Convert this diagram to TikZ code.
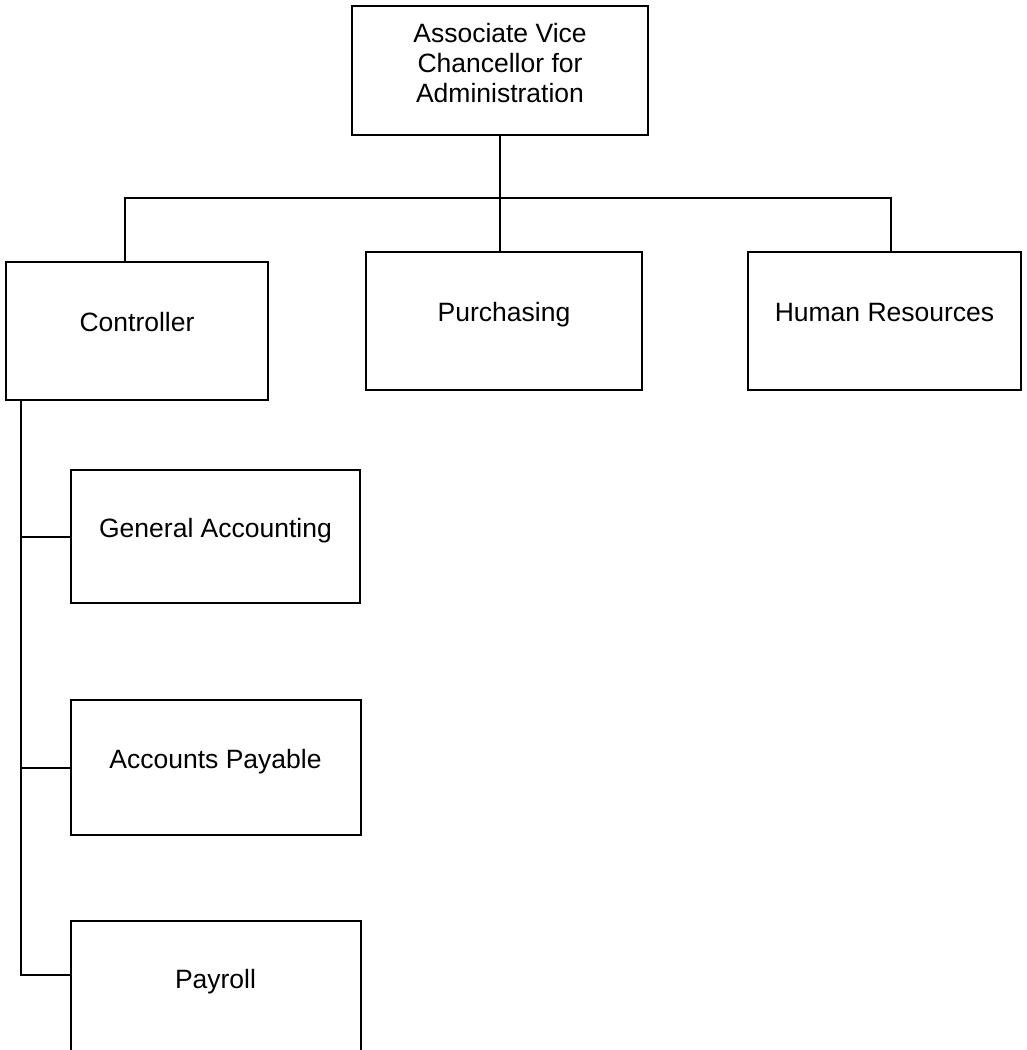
\documentclass[tikz,border=0pt]{standalone}
\usepackage{fontspec}
\setmainfont{Liberation Sans}
\usetikzlibrary{positioning,calc}

\begin{document}
\begin{tikzpicture}[x=0.5pt, y=-0.5pt,
  font=\fontsize{13.25pt}{15pt}\selectfont,
  caja/.style={draw=black, line width=1pt, inner sep=0pt, text height=9.5pt, text depth=9pt},
  jefe/.style={draw=black, line width=1pt, inner sep=0pt, align=center, text depth=8pt},
  linea/.style={draw=black, line width=1pt}]
\useasboundingbox (0,0) rectangle (1027,1050);
\node[jefe, minimum width=148pt, minimum height=64.5pt] (avc) at (500,70.5) {Associate Vice\\Chancellor for\\Administration};
\node[caja, minimum width=131pt, minimum height=69pt] (ctrl) at (137,331) {Controller};
\node[caja, minimum width=138pt, minimum height=69pt] (purch) at (504,321) {Purchasing};
\node[caja, minimum width=136.5pt, minimum height=69pt] (hr) at (884.5,321) {Human Resources};
\node[caja, minimum width=144.5pt, minimum height=66.5pt] (genacc) at (215.5,536.5) {General Accounting};
\node[caja, minimum width=145pt, minimum height=67.5pt, below=47.5pt of genacc] (accpay) {Accounts Payable};
\node[caja, minimum width=145pt, minimum height=66.5pt, below=42pt of accpay] (payroll) {Payroll};
% lineas de mando
\coordinate (busw) at (125,198);
\coordinate (buse) at (891,198);
\coordinate (tronco) at ($(ctrl.south west)+(16,0)$);
\draw[linea] (avc.south) -- (avc.south |- busw);
\draw[linea] (ctrl.north -| busw) |- (buse) -- (buse |- hr.north);
\draw[linea] (avc.south |- busw) -- (avc.south |- purch.north);
\draw[linea] (tronco) |- ($(payroll.north west)!0.41!(payroll.south west)$);
\draw[linea] (tronco |- genacc.west) -- (genacc.west);
\draw[linea] (tronco |- accpay.west) -- (accpay.west);
\end{tikzpicture}
\end{document}
